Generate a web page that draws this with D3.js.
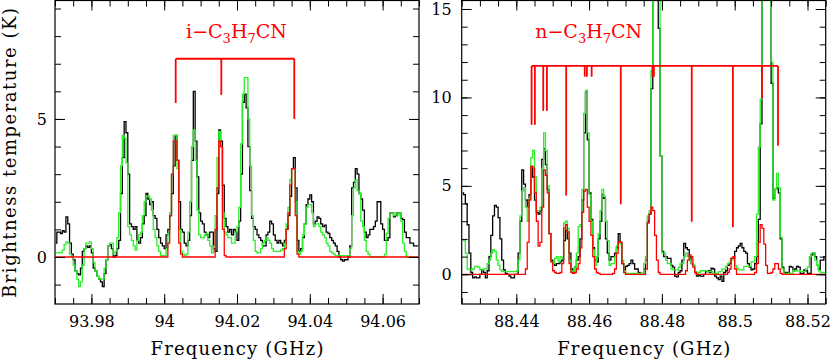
<!DOCTYPE html>
<html>
<head>
<meta charset="utf-8">
<script src="https://cdn.jsdelivr.net/npm/d3@7"></script>
<style>
  body { margin: 0; background: #fff; }
  svg { display: block; }
</style>
</head>
<body>
<div id="chart"></div>
<script>
// 0.5 MHz channels, the first channel starts at the left frame edge
var chanWidth = 0.0005;
var startLeft = 93.97;
var startRight = 88.425;

// left panel: observed (black), total model (green), i-C3H7CN model (red)
var obsLeft = [0.5,0.9,0.9,0.85,0.95,0.9,1.45,1.2,0.5,0.1,
  -0.1,-0.5,-0.6,-0.65,-0.4,0.2,0.3,0.4,0.35,0.4,
  0.15,-0.4,-0.5,-0.7,-0.8,-0.9,-1.07,-0.6,-0.1,0.4,
  0.45,0.3,0,0.05,0.3,0.6,2.3,3.6,4.9,4.5,
  3,1.2,1.1,1,1.1,0.6,0.5,0.7,1.2,1.5,
  2.3,2.1,1.9,2,1.5,1.4,1,0.7,0.5,0.4,
  0.3,0.8,1,1.5,2.3,3.3,4.4,3.5,2,1,
  0.9,0.5,0.4,0.6,1.5,3.5,6,4.2,2.9,1.6,
  1.3,1.2,0.9,0.8,0.7,0.9,0.9,0.3,0.2,2.3,
  4.6,4.2,2.6,1.4,1.1,0.9,1,0.8,1,0.9,
  0.6,1.3,3,5.6,5.9,5.4,4,2.4,1.4,1.1,
  1,0.8,0.7,0.6,0.4,0.4,0.8,0.9,1.3,1.2,
  0.8,0.6,0.5,0.6,0.5,0.4,0.6,1,1.5,2.2,
  3.2,3.6,2.5,0.6,0.2,0.3,0.7,1.2,1.9,2.1,
  2.25,2,1.2,1.3,1.45,1.4,1.2,1.1,1.15,0.9,
  0.85,0.7,0.6,0.5,0.4,0.2,0,-0.1,-0.15,-0.1,
  -0.1,0,0.4,2.5,2.7,3.2,3,2.3,2.1,1.7,
  0.9,0.7,0.8,1,1,1.1,1.3,2,2,1.2,
  1,0.6,0.6,0.7,1.6,1.6,1.45,1.5,1.6,1.6,
  1.4,1.35,0.9,0.7,0.7,0.5,0.5,0.4,0.4,0.4];

var modelLeft = [0.15,0.15,0.15,0.15,0.25,0.45,0.55,0.5,0.1,0,
  -0.3,-0.5,-0.8,-1.07,-0.9,-0.3,0.3,0.5,0.5,0.55,
  0.3,-0.2,-0.5,-0.7,-0.8,-0.8,-0.8,-0.4,-0.1,0.4,
  0.5,0.5,0.1,0.2,0.7,1.6,3.3,4.4,4.3,3.4,
  1.1,0.8,0.6,0.4,0.25,0.6,0.8,0.9,1.5,2,
  2.2,2.2,2.1,1.7,1,0.7,0.4,0.2,0.05,0.05,
  0.05,0.3,0.85,1.6,3,4.4,4.4,3.2,1,0.2,
  0.1,0.05,0.1,0.9,2,4,4.6,3.5,1.7,0.8,
  0.7,0.7,0.8,0.85,0.6,0.4,0.15,0.4,1.5,3.6,
  4.55,4,1.6,0.9,0.8,0.7,0.7,0.5,0.5,0.9,
  1.1,1.8,4.1,5.9,6.5,6.5,5,3.3,1.5,0.6,
  0.2,0.15,0.15,0.3,0.5,0.6,0.7,0.6,0.5,0.3,
  0.2,0.2,0.2,0.2,0.25,0.3,0.5,1.2,1.8,2.8,
  3.2,3.2,2,0.2,0.1,0.2,0.8,1.2,1.8,1.9,
  1.9,1.6,1.1,1.2,1.2,1.1,0.9,0.8,0.7,0.5,
  0.4,0.2,0.15,0.1,0.05,0.05,0.05,0.05,0.05,0.05,
  0.05,0.05,0.3,1.5,2.5,2.8,2.4,2.3,1.3,1.1,
  0.6,0.2,0.1,0,0,0,0,0,0,0,
  0,0.1,0.85,1.4,1.6,1.6,1.5,1.6,1.5,1.6,
  1.3,0.5,0.2,0,0,0,0,0,0,0];

var isoFit = [0,0,0,0,0,0,0,0,0,0,
  0,0,0,0,0,0,0,0,0,0,
  0,0,0,0,0,0,0,0,0,0,
  0,0,0,0,0,0,0,0,0,0,
  0,0,0,0,0,0,0,0,0,0,
  0,0,0,0,0,0,0,0,0,0,
  0,0,0.5,1.5,3,4.2,4.2,3.5,0.5,0.1,
  0,0,0,0,0,0,0,0,0,0,
  0,0,0,0,0,0,0,0,1,2.5,
  4.2,4,1,0.05,0,0,0,0,0,0,
  0,0,0,0,0,0,0,0,0,0,
  0,0,0,0,0,0,0,0,0,0,
  0,0,0,0,0,0,0.3,1,1.6,2.6,
  3.2,3.2,1.5,0.1,0,0,0,0,0,0,
  0,0,0,0,0,0,0,0,0,0,
  0,0,0,0,0,0,0,0,0,0,
  0,0,0,0,0,0,0,0,0,0,
  0,0,0,0,0,0,0,0,0,0,
  0,0,0,0,0,0,0,0,0,0,
  0,0,0,0,0,0,0,0,0,0];

// right panel: observed, total model, n-C3H7CN model
var obsRight = [4.6,4.5,4,2.8,1.2,0.1,-0.2,-0.15,-0.2,-0.2,
  0,0.25,0.1,-0.2,0.2,1,2.2,3.3,3.9,3.8,
  3.2,2,0.8,0.25,0.05,0,-0.1,-0.2,-0.2,0,
  0,1.2,3,5.9,5.1,4.2,3.8,4.5,6.1,5.5,
  4.2,3.5,3.4,3.6,6.5,7.1,6.2,4.8,2.3,0.8,
  0.6,0.5,0.6,0.6,0.7,0.8,1.9,2.5,2,1.2,
  0.3,0.05,0.4,0.8,1,2,4.2,8,10.3,7.6,
  4.6,3.1,1.5,0.8,0.7,2,3,4.5,4.3,2,
  1.2,0.8,1,1,1.2,1.5,2.3,1.8,0.6,0.25,
  0.45,0.5,0.6,0.8,0.6,0.3,0.3,0.1,0.05,0.05,
  0.3,0.8,3,3.4,10.5,17,18,16,13.9,6.7,
  1.3,1,1,0.9,0.9,0.5,0.4,-0.1,-0.15,0.1,
  0.2,0.8,1.75,1.5,1.4,1,0.6,0.5,0.1,-0.1,
  -0.05,-0.1,-0.1,0,0.15,0.2,0.1,0.35,0.3,-0.1,
  -0.2,-0.3,-0.1,-0.4,0.1,0.2,0.5,0.6,0.9,0.9,
  1.3,1.5,1.6,1.75,1.5,1.3,1.2,0.6,0.4,0.25,
  0.3,0.6,1,3.1,8.5,17,20,20,18,16,
  10.8,4.3,4.8,4.9,4.6,2,0.4,0.1,0.1,0.05,
  0.45,0.4,0.2,0.3,0.45,0.4,0.05,0.05,0.25,0.2,
  0.05,0.05,1.1,1.2,1,0.5,0.3,0.8,0.8,1];

var modelRight = [1.9,1.9,1.2,0.3,0.25,0.25,0.3,0.45,0.45,0.4,
  0.25,0.25,0.3,0.3,0.6,0.8,1.2,1.4,1.3,0.8,
  0.5,0.25,0.15,0.15,0.15,0.15,0.15,0.15,0.15,0.15,
  0.2,0.8,3.3,4.7,4.9,3.8,3,4.3,6.6,7,
  5.5,3.6,3.6,3.8,6,8,7,5,2.3,0.7,
  0.6,0.9,1,0.7,1,0.9,2.9,3,2.6,0.8,
  0.2,0.15,0.4,1.2,2.7,2.8,4.8,9.1,10.4,8,
  4.5,3,1.4,0.5,1,2.3,3.6,4.8,4.4,3,
  1.9,0.5,0.6,0.6,1,1.6,1.85,1.7,0.8,0.2,
  0.05,0.05,0.05,0.05,0.05,0.05,0.05,0.05,0.05,0.05,
  0.6,1,3.3,3.6,11.5,20,22,22,20,6.7,
  1.2,1.2,0.8,0.6,0.6,0.3,0.25,0.25,0.25,0.4,
  0.6,0.6,1,1.2,1,0.8,0.6,0.5,0.15,0.05,
  0.1,0.2,0.2,0.2,0.2,0.15,0.15,0.15,0.05,0.05,
  0.05,0.15,0.15,0.3,0.3,0.45,0.6,0.7,0.8,0.8,
  0.5,0.35,0.25,0.25,0.25,0.45,0.45,0.45,0.45,0.7,
  0.7,1,3.4,7.2,9.9,20,24,24,22,18,
  12,4.2,4.8,5.7,4.9,2.1,0.3,0.05,0.05,0.05,
  0.05,0.05,0.2,0.2,0.2,0.2,0.15,0.15,0.15,0.3,
  0.4,1,1.2,1.2,0.8,0.5,0.2,0.1,0.1,0.1];

var normFit = [0,0,0,0,0,0,0,0,0,0,
  0,0,0,0,0,0,0,0,0,0,
  0,0,0,0,0,0,0,0,0,0,
  0,0,0,0,0,0.3,1.8,4.2,6.1,6,
  4.6,3,1.6,1.8,3.8,5.9,5.6,4.6,2.3,0.7,
  0.2,0.1,0.05,0.05,0.1,0.6,2.6,2.8,2.4,0.6,
  0.1,0.05,0.1,0.3,0.6,1.5,3.5,4.7,4.8,3.8,
  3,2.2,1,0.3,0.1,0.05,0,0,0,0,
  0,0,0,0.05,0.3,1.2,1.85,1.8,0.6,0.1,
  0,0,0,0,0,0,0,0,0,0,
  0,0.3,2.9,3.4,3.8,3.6,2.2,0.8,0.1,0,
  0,0,0,0,0,0,0,0,0,0,
  0,0,0,0.2,0.8,1.1,1,0.4,0.1,0,
  0,0,0,0,0,0,0,0,0,0,
  0,0,0,0,0,0,0.1,0.3,0.9,1,
  0.3,0,0,0,0,0,0,0,0,0,
  0,0.1,0.6,1.8,2.8,2.6,1.7,0.5,0.05,0.05,
  0.1,0.3,0.6,0.6,0.3,0.05,0,0,0,0,
  0,0,0,0,0,0,0,0,0,0,
  0,0,0,0,0,0,0,0,0,0];

// line markers (GHz) and where each tick stops (K)
var isoLines = [94.00316, 94.01569, 94.03574];
var isoLineLow = [5.58, 5.87, 5.0];
var isoBarTop = 7.18;
var normLines = [88.4442, 88.4451, 88.4474, 88.4484, 88.4537, 88.4588, 88.4594, 88.4607,
  88.4687, 88.4774, 88.4778, 88.4882, 88.4995, 88.5075, 88.5119];
var normLineLow = [8.45, 8.45, 9.24, 9.24, 4.45, 11.17, 11.17, 11.17,
  3.96, 11.17, 11.17, 2.97, 2.66, 9.94, 7.27];
var normBarTop = 11.78;

var xTicksLeft = [93.98, 94, 94.02, 94.04, 94.06];
var xLabelsLeft = ["93.98", "94", "94.02", "94.04", "94.06"];
var xTicksRight = [88.44, 88.46, 88.48, 88.5, 88.52];
var xLabelsRight = ["88.44", "88.46", "88.48", "88.5", "88.52"];
var yTicksLeft = [0, 5];
var yTicksRight = [0, 5, 10, 15];

var fontFam = "DejaVu Serif";
var green = "#2bef2b";
var red = "#ff0000";

var svg = d3.select("#chart").append("svg")
    .attr("width", 830)
    .attr("height", 360);

function drawPanel(p) {
    var x = d3.scaleLinear().domain(p.xDomain).range([p.left, p.right]);
    var y = d3.scaleLinear().domain(p.yDomain).range([p.bottom, p.top]);
    var g = svg.append("g");

    svg.append("clipPath").attr("id", "clip-" + p.name)
        .append("rect")
        .attr("x", p.left).attr("y", p.top)
        .attr("width", p.right - p.left).attr("height", p.bottom - p.top);

    var freqs = d3.range(p.obs.length).map(function(i) {
        return p.start + (i + 0.5) * chanWidth;
    });
    var line = d3.line()
        .curve(d3.curveStep)
        .x(function(d, i) { return x(freqs[i]); })
        .y(function(d) { return y(d); });

    var spec = g.append("g").attr("clip-path", "url(#clip-" + p.name + ")");
    [[p.obs, "#000"], [p.model, green], [p.fit, red]].forEach(function(s) {
        spec.append("path")
            .datum(s[0])
            .attr("d", line)
            .attr("fill", "none")
            .attr("stroke", s[1])
            .attr("stroke-width", 1.3);
    });

    // line markers
    var mk = g.append("g").attr("stroke", red).attr("stroke-width", 1.8).attr("fill", "none");
    mk.append("line")
        .attr("x1", x(d3.min(p.lines))).attr("x2", x(d3.max(p.lines)))
        .attr("y1", y(p.barTop)).attr("y2", y(p.barTop));
    mk.selectAll(".tick-line")
        .data(p.lines)
        .enter()
        .append("line")
        .attr("x1", function(d) { return x(d); })
        .attr("x2", function(d) { return x(d); })
        .attr("y1", y(p.barTop))
        .attr("y2", function(d, i) { return y(p.lineLow[i]); });

    // axes, ticks pointing inwards on all four sides
    var minorX = d3.ticks(p.xDomain[0], p.xDomain[1], 20);
    var minorY = d3.range(Math.ceil(p.yDomain[0]), Math.floor(p.yDomain[1]) + 1);
    function clean(sel) {
        sel.select(".domain").remove();
        sel.attr("font-family", fontFam).attr("font-size", 16);
        sel.selectAll("text").attr("fill", "#000");
    }
    g.append("g").attr("transform", "translate(0," + p.bottom + ")")
        .call(d3.axisBottom(x).tickValues(p.xTicks).tickSizeOuter(0).tickSize(-10).tickPadding(12)
            .tickFormat(function(d) { return p.xLabels[p.xTicks.indexOf(d)]; }))
        .call(clean);
    g.append("g").attr("transform", "translate(0," + p.bottom + ")")
        .call(d3.axisBottom(x).tickValues(minorX).tickSizeOuter(0).tickSize(-6).tickFormat(""))
        .call(clean);
    g.append("g").attr("transform", "translate(0," + p.top + ")")
        .call(d3.axisTop(x).tickValues(p.xTicks).tickSizeOuter(0).tickSize(-10).tickFormat(""))
        .call(clean);
    g.append("g").attr("transform", "translate(0," + p.top + ")")
        .call(d3.axisTop(x).tickValues(minorX).tickSizeOuter(0).tickSize(-6).tickFormat(""))
        .call(clean);
    g.append("g").attr("transform", "translate(" + p.left + ",0)")
        .call(d3.axisLeft(y).tickValues(p.yTicks).tickSizeOuter(0).tickSize(-10).tickPadding(p.yPad)
            .tickFormat(d3.format("d")))
        .call(clean);
    g.append("g").attr("transform", "translate(" + p.left + ",0)")
        .call(d3.axisLeft(y).tickValues(minorY).tickSizeOuter(0).tickSize(-6).tickFormat(""))
        .call(clean);
    g.append("g").attr("transform", "translate(" + p.right + ",0)")
        .call(d3.axisRight(y).tickValues(p.yTicks).tickSizeOuter(0).tickSize(-10).tickFormat(""))
        .call(clean);
    g.append("g").attr("transform", "translate(" + p.right + ",0)")
        .call(d3.axisRight(y).tickValues(minorY).tickSizeOuter(0).tickSize(-6).tickFormat(""))
        .call(clean);

    g.append("rect")
        .attr("x", p.left).attr("y", p.top)
        .attr("width", p.right - p.left).attr("height", p.bottom - p.top)
        .attr("fill", "none").attr("stroke", "#000").attr("stroke-width", 1.2);

    g.append("text")
        .attr("x", (p.left + p.right) / 2)
        .attr("y", 355)
        .attr("text-anchor", "middle")
        .attr("font-family", fontFam)
        .attr("font-size", 18)
        .attr("textLength", 173)
        .attr("lengthAdjust", "spacing")
        .text("Frequency (GHz)");

    // molecule name with subscripts
    var t = g.append("text")
        .attr("x", p.titleX)
        .attr("y", 37.5)
        .attr("text-anchor", "middle")
        .attr("font-family", fontFam)
        .attr("font-size", 19)
        .attr("fill", red);
    t.append("tspan").text(p.prefix + "\u2212C");
    t.append("tspan").attr("dy", 5).attr("font-size", 13).text("3");
    t.append("tspan").attr("dy", -5).text("H");
    t.append("tspan").attr("dy", 5).attr("font-size", 13).text("7");
    t.append("tspan").attr("dy", -5).text("CN");
}

drawPanel({
    name: "left", left: 55, right: 419, top: 0.5, bottom: 304,
    xDomain: [93.97, 94.07], yDomain: [-1.703, 9.29],
    start: startLeft, obs: obsLeft, model: modelLeft, fit: isoFit,
    lines: isoLines, lineLow: isoLineLow, barTop: isoBarTop,
    xTicks: xTicksLeft, xLabels: xLabelsLeft, yTicks: yTicksLeft, yPad: 8,
    prefix: "i", titleX: 236.5
});

drawPanel({
    name: "right", left: 461.7, right: 825.7, top: 0.5, bottom: 304,
    xDomain: [88.425, 88.525], yDomain: [-1.68, 15.48],
    start: startRight, obs: obsRight, model: modelRight, fit: normFit,
    lines: normLines, lineLow: normLineLow, barTop: normBarTop,
    xTicks: xTicksRight, xLabels: xLabelsRight, yTicks: yTicksRight, yPad: 10,
    prefix: "n", titleX: 588.7
});

svg.append("text")
    .attr("transform", "translate(16,153) rotate(-90)")
    .attr("text-anchor", "middle")
    .attr("font-family", fontFam)
    .attr("font-size", 18)
    .attr("textLength", 290)
    .attr("lengthAdjust", "spacing")
    .text("Brightness temperature (K)");
</script>
</body>
</html>
